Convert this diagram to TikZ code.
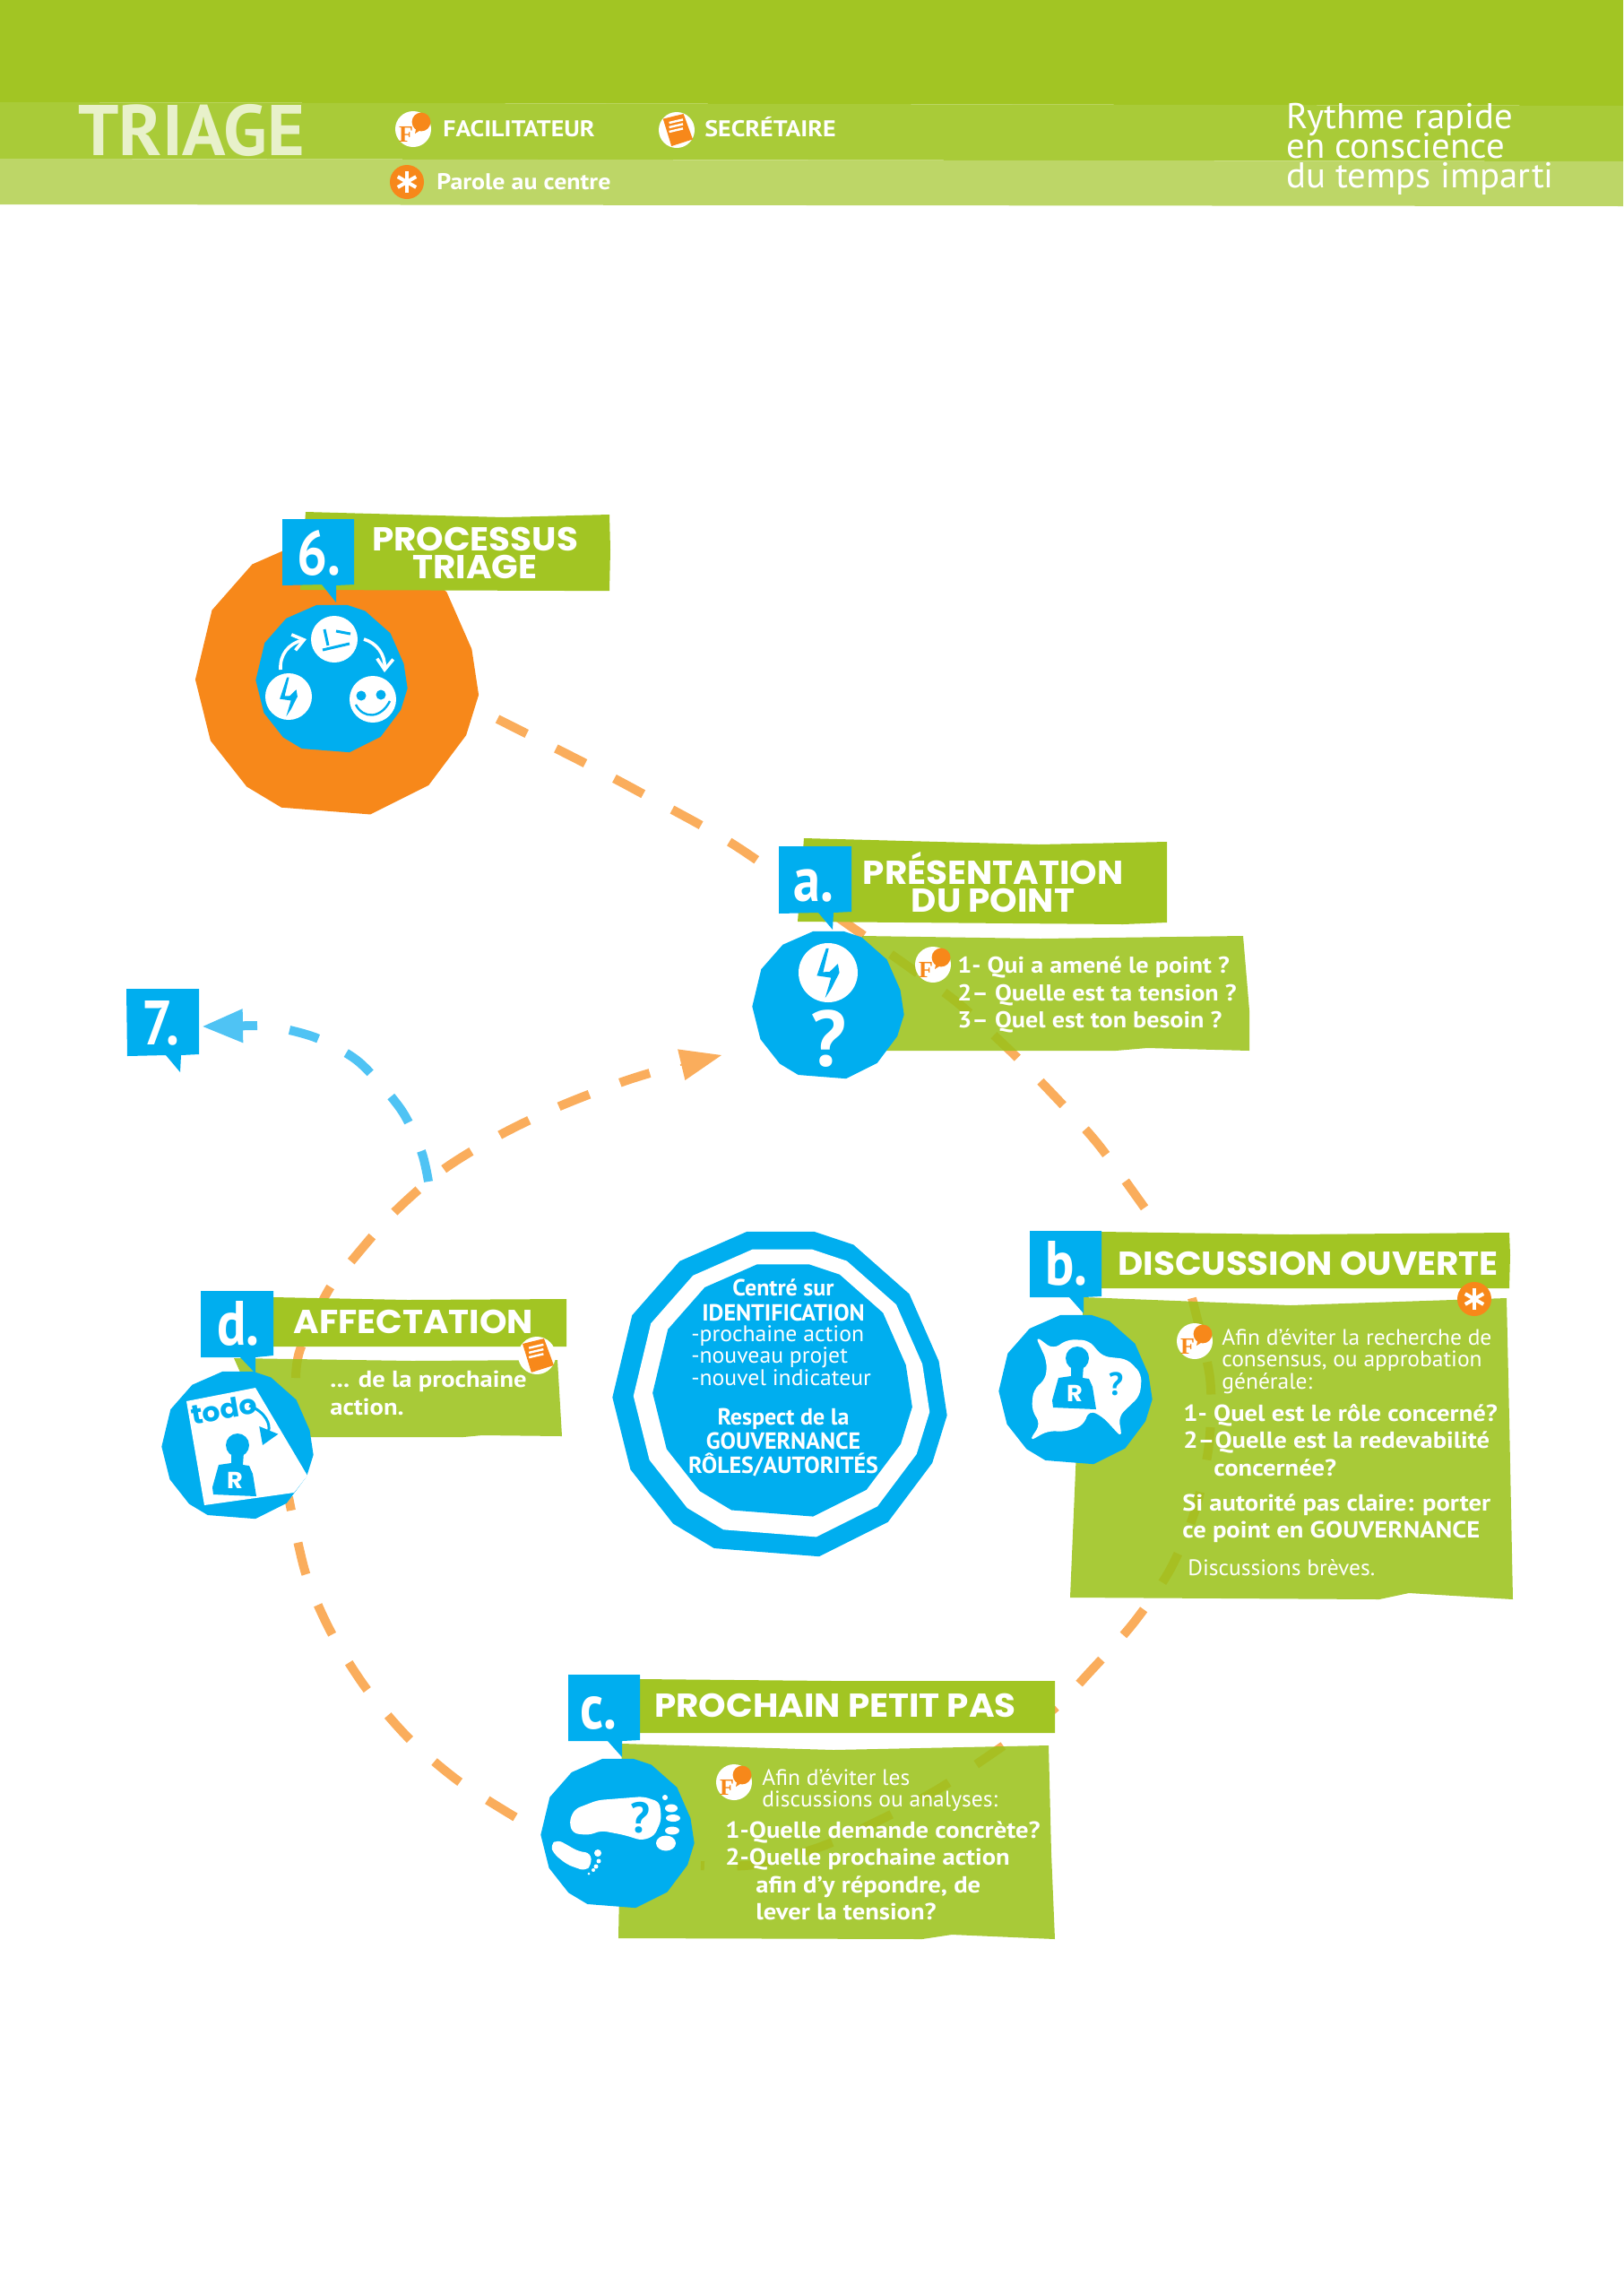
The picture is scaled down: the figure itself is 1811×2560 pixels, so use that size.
\documentclass[tikz,border=0pt]{standalone}
\usepackage{fontspec}
\setmainfont[FakeStretch=1.02,BoldFeatures={FakeStretch=1.1}]{PT Sans}
\newfontfamily\plainfont{PT Sans}
\newfontfamily\tagfont[FakeStretch=.86]{PT Sans}
\newfontfamily\titlefont[FakeStretch=1.05]{Poppins}
\newfontfamily\serifbold{Liberation Serif}
\usetikzlibrary{arrows.meta}
\definecolor{tagblue}{HTML}{00AEEF}
\definecolor{headgreen}{HTML}{A2C523}
\definecolor{boxgreen}{HTML}{9BC21A}
\definecolor{bandmid}{HTML}{A9CB38}
\definecolor{bandlow}{HTML}{BDD667}
\definecolor{mainorange}{HTML}{F7881A}
\definecolor{ringorange}{HTML}{FAAD5C}
\definecolor{exitblue}{HTML}{4FC3F4}
\tikzset{
  headbox/.style={fill=headgreen},
  lightbox/.style={fill=boxgreen,fill opacity=.87},
  tagbox/.style={fill=tagblue},
  ringdash/.style={draw=ringorange,line width=5pt,dash pattern=on 18.3pt off 18.3pt},
  exitdash/.style={draw=exitblue,line width=5pt,dash pattern=on 17.5pt off 17.5pt},
  bigtip/.style={-{Triangle[length=23pt,width=17.5pt]}},
  lab/.style={inner sep=0pt,text=white,font=\fontsize{13}{15.25}\selectfont\bfseries,align=left},
  softlab/.style={inner sep=0pt,text=white,font=\fontsize{12.5}{12.25}\selectfont,align=left},
  toplab/.style={inner sep=0pt,anchor=base west,text=white,font=\fontsize{12.7}{13}\selectfont\bfseries},
  rythmelab/.style={inner sep=0pt,anchor=base west,text=white,font=\fontsize{20}{20}\selectfont},
  tagnum/.style={inner sep=0pt,text=white,anchor=base west,font=\fontsize{35}{35}\selectfont\tagfont\bfseries},
  toptitle/.style={inner sep=0pt,text=white,align=center,font=\fontsize{18.5}{15.5}\selectfont\titlefont\bfseries},
  % formes de base
  blob/.pic={\path[pic actions] (-.2,-.99) -- (.21,-.99) -- (.45,-.91) -- (.79,-.61) -- (.97,-.2) -- (1.02,.13)
    -- (.93,.42) -- (.66,.78) -- (.24,.99) -- (-.4,.94) -- (-.65,.79) -- (-.91,.46) -- (-1.02,.02) -- (-.9,-.48) -- (-.61,-.81) -- cycle;},
  bolt/.pic={\fill[white] (0,0) circle[radius=1];
    \fill[tagblue] (-.07,-.82) -- (-.38,.1) -- (.1,.17) -- (-.1,.85) -- (.1,.55) -- (.38,0) -- (.33,-.3) -- (.05,-.03) -- (-.17,-.02) -- (.02,-.82) -- cycle;},
  ficon/.pic={\fill[white] (0,0) circle[radius=1];
    \fill[mainorange] (.45,-.4) circle[radius=.52];
    \fill[mainorange] (.2,-.2) -- (.1,.25) -- (.5,0) -- cycle;
    \node[inner sep=0pt,text=mainorange,font=\fontsize{13}{13}\selectfont\serifbold\bfseries] (f) at (-.4,.3) {F};},
  staricon/.pic={\fill[mainorange] (0,0) circle[radius=1];
    \foreach \a in {90,30,150} {\draw[white,line width=2pt] (\a:.62) -- (\a+180:.62);}},
  docicon/.pic={\fill[white] (0,0) circle[radius=1];
    \fill[mainorange] (-.76,-.62) -- (.38,-.9) -- (.9,.52) -- (-.29,.9) -- cycle;
    \foreach \k in {-.4,-.15,.1} {\draw[white,line width=1.2pt] (-.42,\k) -- (.35,\k-.18);}},
  person/.pic={\fill[tagblue] (0,0) ellipse[x radius=13,y radius=13];
    \fill[tagblue] (-7,8) -- (7,8) -- (6,22) -- (13,23) -- (17,32) -- (21,57) -- (-27,55) -- (-28,47) -- (-21,22) -- (-7,20) -- cycle;
    \node[inner sep=0pt,text=white,font=\fontsize{13}{13}\selectfont\titlefont\bfseries] (r) at (-3,39) {R};}
}
\begin{document}
\begin{tikzpicture}[x=.5pt,y=-.5pt]
\useasboundingbox (0,0) rectangle (1811,2560);
% bandeau du haut
\fill[headgreen] (0,0) -- (1811,0) -- (1811,118) -- (0,114) -- cycle;
\fill[bandmid] (0,114) -- (1811,118) -- (1811,180) -- (0,177) -- cycle;
\fill[bandlow] (0,177) -- (1811,180) -- (1811,230) -- (0,228) -- cycle;
\node[inner sep=0pt,anchor=base west,text=bandlow!35!white,font=\fontsize{40}{40}\selectfont\plainfont\bfseries] (triage) at (87,173) {TRIAGE};
\pic[scale=20] (fac) at (461,144) {ficon};
\node[toplab] (factxt) at (494,152) {FACILITATEUR};
\pic[scale=20] (sec) at (755,145) {docicon};
\node[toplab] (sectxt) at (786,152) {SECRÉTAIRE};
\pic[scale=19] (par) at (454,203) {staricon};
\node[toplab] (partxt) at (487,211) {Parole au centre};
\node[rythmelab] (rythmea) at (1435,143) {Rythme rapide};
\node[rythmelab] (rythmeb) at (1435,176) {en conscience};
\node[rythmelab] (rythmec) at (1435,209) {du temps imparti};
% cercle en pointilles
\coordinate (ring6) at (555,802);
\coordinate (ringa) at (1279,1350);
\coordinate (ringb) at (1330,1448);
\coordinate (ringc) at (782,2081);
\coordinate (ringcc) at (575,2027);
\coordinate (ringd) at (322,1670);
\coordinate (ringdd) at (330,1537);
\coordinate (ringlast) at (725,1197);
\coordinate (ringhead) at (759,1188);
\coordinate (ringend) at (805,1177);
\draw[ringdash] plot[smooth] coordinates {(ring6) (654,852) (720,887) (820,943) (953,1036) (1009,1075) (1069,1119) (1125,1170) (1176,1222) (1225,1276) (ringa)};
\draw[ringdash] plot[smooth] coordinates {(ringb) (1350,1537) (1349,1610) (1334,1683) (1306,1750) (1265,1810) (1216,1865) (1175,1907) (1104,1958) (1043,1998) (980,2031) (913,2061) (841,2080) (ringc)};
\draw[ringdash] plot[smooth] coordinates {(ringcc) (512,1987) (457,1940) (409,1884) (370,1822) (341,1755) (ringd)};
\draw[ringdash] plot[smooth] coordinates {(ringdd) (335,1505) (366,1440) (391,1408) (439,1353) (494,1305) (556,1267) (622,1235) (691,1208) (ringlast)};
\draw[ringorange,line width=1pt,bigtip] (ringhead) -- (ringend);
% sortie vers 7
\coordinate (exitstart) at (478,1318);
\coordinate (exitlast) at (323,1149);
\coordinate (exitstub) at (287,1144);
\coordinate (exitend) at (225,1145);
\draw[exitdash] plot[smooth] coordinates {(exitstart) (470,1284) (447,1237) (401,1185) (356,1159) (exitlast)};
\draw[draw=exitblue,line width=5pt,bigtip] (exitstub) -- (exitend);
% 6. processus
\pic[fill=mainorange,scale=155] (big6) at (376,755) {blob};
\fill[headbox] (341,571) -- (562,577) -- (680,574) -- (681,613) -- (680,659) -- (633,659) -- (335,658) -- cycle;
\pic[fill=tagblue,scale=83] (blob6) at (370,757) {blob};
\fill[tagbox] (315,579) -- (395,579) -- (395,652) -- (375,653) -- (375,672) -- (359,652) -- (315,653) -- cycle;
\node[tagnum] (num6) at (331,641) {6.};
\node[toptitle] (title6) at (530,617) {PROCESSUS\\TRIAGE};
\pic[scale=26] (bolt6) at (322,777) {bolt};
\fill[white] (373,713) circle[radius=26];
\draw[tagblue,line width=1.5pt] (362,702) -- (366,720) (375,704) -- (391,707) (360,725) -- (390,718);
\fill[white] (416,780) circle[radius=26];
\fill[tagblue] (403,776) circle[radius=5.5] (425,775) circle[radius=5.5];
\draw[tagblue,line width=1.2pt] (397,786) .. controls (405,802) and (425,802) .. (435,782);
\draw[white,line width=1.8pt,-{Straight Barb[length=6pt,width=9pt]}] (313,747) .. controls (312,730) and (322,718) .. (342,713);
\draw[white,line width=1.8pt,-{Straight Barb[length=6pt,width=9pt]}] (406,713) .. controls (420,717) and (430,730) .. (429,750);
% a. presentation
\fill[headbox] (897,935) -- (1159,942) -- (1302,939) -- (1302,977) -- (1302,1029) -- (1253,1031) -- (890,1028) -- cycle;
\fill[lightbox] (962,1044) -- (1161,1047) -- (1387,1044) -- (1394,1127) -- (1394,1172) -- (1280,1169) -- (1245,1172) -- (960,1172) -- cycle;
\pic[fill=tagblue,scale=83] (bloba) at (924,1121) {blob};
\fill[tagbox] (869,944) -- (950,944) -- (950,1017) -- (930,1018) -- (929,1037) -- (913,1018) -- (869,1019) -- cycle;
\node[tagnum] (numa) at (885,1005) {a.};
\node[toptitle] (titlea) at (1108,984) {PRÉSENTATION\\DU POINT};
\pic[scale=33] (bolta) at (924,1085) {bolt};
\node[inner sep=0pt,text=white,font=\fontsize{44}{44}\selectfont\plainfont\bfseries] (aska) at (924,1159) {?};
\pic[scale=20] (fa) at (1041,1076) {ficon};
\node[lab,font=\fontsize{12.8}{15.25}\selectfont\bfseries,anchor=north west] (texta) at (1068,1067) {1- Qui a amené le point ?\\2– Quelle est ta tension ?\\3– Quel est ton besoin ?};
% b. discussion
\fill[headbox] (1229,1374) -- (1440,1377) -- (1684,1375) -- (1685,1400) -- (1684,1437) -- (1229,1437) -- cycle;
\fill[lightbox] (1209,1447) -- (1440,1456) -- (1681,1448) -- (1684,1583) -- (1688,1784) -- (1572,1777) -- (1539,1784) -- (1194,1782) -- (1201,1617) -- cycle;
\pic[fill=tagblue,scale=84] (blobb) at (1200,1550) {blob};
\fill[tagbox] (1149,1373) -- (1229,1373) -- (1229,1446) -- (1209,1447) -- (1209,1465) -- (1193,1447) -- (1149,1447) -- cycle;
\node[tagnum] (numb) at (1166,1433) {b.};
\node[toptitle,anchor=base west] (titleb) at (1247,1422) {DISCUSSION OUVERTE};
\fill[white,rounded corners=4pt] (1155,1490) -- (1175,1505) -- (1191,1494) -- (1215,1495) -- (1230,1513) -- (1258,1516) -- (1274,1533) -- (1272,1557) -- (1248,1580) -- (1252,1604) -- (1230,1580) -- (1215,1573) -- (1209,1590) -- (1189,1597) -- (1169,1596) -- (1148,1608) -- (1161,1588) -- (1151,1573) -- (1153,1550) -- (1167,1538) -- (1168,1518) -- cycle;
\pic (roleb) at (1202,1515) {person};
\node[inner sep=0pt,text=tagblue,font=\fontsize{18}{18}\selectfont\plainfont\bfseries] (askb) at (1245,1544) {?};
\pic[scale=19] (starb) at (1645,1449) {staricon};
\pic[scale=20] (fb) at (1333,1496) {ficon};
\node[softlab,anchor=north west] (softb) at (1363,1482) {Afin d’éviter la recherche de\\consensus, ou approbation\\générale:};
\node[lab,anchor=north west] (textb) at (1320,1566) {1- Quel est le rôle concerné?\\2–Quelle est la redevabilité\\\hspace{17pt}concernée?};
\node[lab,anchor=north west] (portb) at (1319,1666) {Si autorité pas claire: porter\\ce point en GOUVERNANCE};
\node[softlab,anchor=base west] (breveb) at (1325,1757) {Discussions brèves.};
% c. prochain petit pas
\fill[headbox] (714,1873) -- (930,1875) -- (1177,1875) -- (1177,1933) -- (714,1933) -- cycle;
\fill[lightbox] (694,1945) -- (930,1952) -- (1170,1947) -- (1173,2067) -- (1177,2163) -- (1062,2158) -- (1029,2163) -- (690,2162) -- cycle;
\pic[fill=tagblue,scale=84] (blobc) at (689,2045) {blob};
\fill[tagbox] (634,1868) -- (714,1868) -- (714,1941) -- (694,1942) -- (694,1960) -- (678,1942) -- (634,1942) -- cycle;
\node[tagnum] (numc) at (647,1928) {c.};
\node[toptitle,anchor=base west] (titlec) at (730,1915) {PROCHAIN PETIT PAS};
\fill[white,rounded corners=3pt] (635,2032) -- (641,2018) -- (667,2008) -- (718,2004) -- (736,2010) -- (738,2030) -- (730,2048) -- (716,2053) -- (697,2047) -- (671,2042) -- (657,2047) -- (639,2045) -- cycle;
\fill[white,rounded corners=3pt] (614,2058) -- (622,2052) -- (633,2058) -- (645,2065) -- (659,2067) -- (660,2080) -- (653,2087) -- (633,2080) -- (618,2068) -- cycle;
\fill[white] (742,2005) circle[radius=3] (749,2017) ellipse[x radius=7,y radius=4.5] (751,2028) ellipse[x radius=8,y radius=4] (750,2042) ellipse[x radius=8,y radius=4.5] (743,2056) ellipse[x radius=11,y radius=8.5];
\fill[white] (667,2067) circle[radius=4] (668,2076) circle[radius=2.5] (665,2082) circle[radius=2.5] (662,2086) circle[radius=2] (657,2090) circle[radius=1.5];
\node[inner sep=0pt,text=tagblue,font=\fontsize{24}{24}\selectfont\plainfont\bfseries] (askc) at (714,2028) {?};
\pic[scale=20] (fc) at (819,1988) {ficon};
\node[softlab,anchor=north west] (softc) at (850,1973) {Afin d’éviter les\\discussions ou analyses:};
\node[lab,anchor=north west] (textc) at (809,2031) {1-Quelle demande concrète?\\2-Quelle prochaine action\\\hspace{17pt}afin d’y répondre, de\\\hspace{17pt}lever la tension?};
% d. affectation
\fill[headbox] (305,1447) -- (455,1450) -- (632,1449) -- (632,1473) -- (632,1502) -- (305,1502) -- cycle;
\fill[lightbox] (261,1515) -- (460,1518) -- (622,1517) -- (627,1602) -- (538,1601) -- (517,1603) -- (300,1603) -- cycle;
\pic[fill=tagblue,scale=83] (blobd) at (265,1612) {blob};
\fill[white] (208,1563) -- (285,1548) -- (343,1646) -- (328,1665) -- (228,1679) -- cycle;
\fill[tagbox] (224,1440) -- (305,1440) -- (305,1512) -- (285,1514) -- (285,1532) -- (268,1514) -- (224,1514) -- cycle;
\node[tagnum] (numd) at (242,1500) {d.};
\node[toptitle,anchor=base west] (titled) at (327,1487) {AFFECTATION};
\pic[scale=21] (docd) at (599,1512) {docicon};
\node[lab,anchor=north west] (textd) at (368,1529) {... de la prochaine\\action.};
\node[inner sep=0pt,rotate=10,text=tagblue,font=\fontsize{15}{15}\selectfont\titlefont\bfseries] (todo) at (250,1572) {todo};
\draw[tagblue,line width=1.5pt,-{Triangle[length=9pt,width=11pt]}] (278,1568) .. controls (297,1575) and (302,1590) .. (293,1612);
\pic (roled) at (265,1612) {person};
% centre
\pic[fill=tagblue,scale=183] (ringout) at (870,1555) {blob};
\pic[fill=white,scale=162] (ringmid) at (872,1554) {blob};
\pic[fill=tagblue,scale=142] (ringin) at (873,1551) {blob};
\node[lab,align=center,anchor=north,font=\fontsize{13}{14}\selectfont\plainfont\bfseries] (centera) at (874,1426) {Centré sur\\IDENTIFICATION};
\node[softlab,font=\fontsize{12.6}{12.25}\selectfont,anchor=north west] (centerb) at (771,1478) {-prochaine action\\-nouveau projet\\-nouvel indicateur};
\node[lab,align=center,anchor=north,font=\fontsize{13}{13.3}\selectfont\plainfont\bfseries] (centerc) at (874,1571) {Respect de la\\GOUVERNANCE\\RÔLES/AUTORITÉS};
% 7.
\fill[tagbox] (141,1103) -- (222,1103) -- (222,1176) -- (202,1177) -- (201,1196) -- (185,1177) -- (142,1178) -- cycle;
\node[tagnum] (num7) at (158,1165) {7.};
\end{tikzpicture}
\end{document}
